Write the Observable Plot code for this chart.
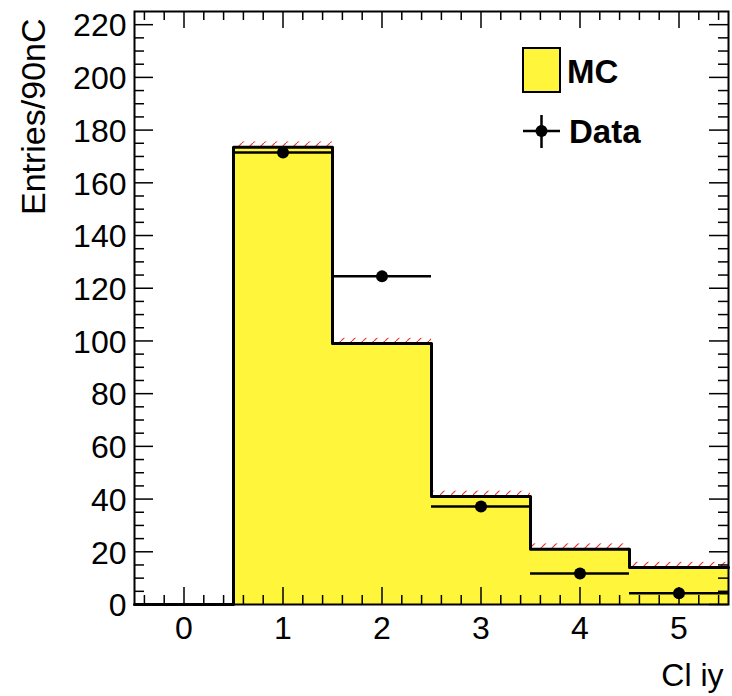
<!DOCTYPE html>
<html>
<head>
<meta charset="utf-8">
<script src="https://cdn.jsdelivr.net/npm/d3@7"></script>
<script src="https://cdn.jsdelivr.net/npm/@observablehq/plot@0.6"></script>
<style>
  body { margin: 0; background: #fff; }
  svg { display: block; }
</style>
</head>
<body>
<div id="chart"></div>
<script>
// Cluster iy distribution: simulation (MC) vs. measured data, per 90 nC
const binCenters = [0, 1, 2, 3, 4, 5];
const mcCounts   = [0, 173.5, 99, 41, 21, 14];
const mcErrors   = [0, 2, 2, 2, 2, 2];
const dataCounts = [0, 171.5, 124.5, 37.2, 11.8, 4.3];
const xTickValues = [0, 1, 2, 3, 4, 5];
const yTickValues = [0, 20, 40, 60, 80, 100, 120, 140, 160, 180, 200, 220];
const xTitle = "Cl iy";
const yTitle = "Entries/90nC";
const legendLabels = ["MC", "Data"];

const W = 732, H = 696;
const mL = 134, mR = 4, mT = 11, mB = 92;
const innerW = W - mL - mR, innerH = H - mT - mB;
const font = "'Liberation Sans', Arial, Helvetica, sans-serif";
const yellow = "#fff53a";

const bins = binCenters.map((c, i) => ({
  x1: c - 0.5, x2: c + 0.5, mc: mcCounts[i], err: mcErrors[i], data: dataCounts[i], c
}));

// histogram outline (step) through the lower bin edges plus the last upper edge
const outline = bins.map(b => ({x: b.x1, y: b.mc}));
outline.push({x: bins[bins.length - 1].x2, y: bins[bins.length - 1].mc});

const xMinor = d3.range(-4, 55, 2).map(v => v / 10).filter(v => Math.abs(v - Math.round(v)) > 1e-6);
const yMinor = d3.range(5, 225, 5).filter(v => v % 20 !== 0);

const majX = 17, minX = 9, majY = 19, minY = 10;

const chart = Plot.plot({
  width: W, height: H,
  marginLeft: mL, marginRight: mR, marginTop: mT, marginBottom: mB,
  style: {fontFamily: font, background: "#fff"},
  x: {domain: [-0.5, 5.5], axis: null},
  y: {domain: [0, 225], axis: null},
  marks: [
    // MC uncertainty band (hatched)
    Plot.rect(bins.filter(b => b.mc > 0), {
      x1: "x1", x2: "x2", y1: b => b.mc - b.err, y2: b => b.mc + b.err,
      fill: "url(#mcErr)"
    }),
    // MC filled histogram
    Plot.rectY(bins, {x1: "x1", x2: "x2", y: "mc", fill: yellow}),
    // inside ticks on all four sides
    Plot.tickX(xTickValues, {x: d => d, insetTop: innerH - majX, stroke: "#000", strokeWidth: 1.5}),
    Plot.tickX(xMinor, {x: d => d, insetTop: innerH - minX, stroke: "#000", strokeWidth: 1.5}),
    Plot.tickX(xTickValues, {x: d => d, insetBottom: innerH - majX, stroke: "#000", strokeWidth: 1.5}),
    Plot.tickX(xMinor, {x: d => d, insetBottom: innerH - minX, stroke: "#000", strokeWidth: 1.5}),
    Plot.tickY(yTickValues, {y: d => d, insetRight: innerW - majY, stroke: "#000", strokeWidth: 1.5}),
    Plot.tickY(yMinor, {y: d => d, insetRight: innerW - minY, stroke: "#000", strokeWidth: 1.5}),
    Plot.tickY(yTickValues, {y: d => d, insetLeft: innerW - majY, stroke: "#000", strokeWidth: 1.5}),
    Plot.tickY(yMinor, {y: d => d, insetLeft: innerW - minY, stroke: "#000", strokeWidth: 1.5}),
    // MC outline
    Plot.line(outline, {x: "x", y: "y", curve: "step-after", stroke: "#000", strokeWidth: 3}),
    // data: bin-width bars and markers
    Plot.ruleY(bins.filter(b => b.data > 0), {y: "data", x1: "x1", x2: "x2", stroke: "#000", strokeWidth: 2.5}),
    Plot.dot(bins.filter(b => b.data > 0), {x: "c", y: "data", r: 6, fill: "#000"}),
    // axes labels
    Plot.axisX(xTickValues, {tickSize: 0, tickPadding: 12, fontSize: 32, label: null, tickFormat: d => String(d)}),
    Plot.axisY(yTickValues, {tickSize: 0, tickPadding: 8, fontSize: 32, label: null, tickFormat: d => String(d), dy: 1.5}),
    Plot.text([xTitle], {frameAnchor: "bottom-right", text: d => d, textAnchor: "end", lineAnchor: "bottom",
      dx: -5, dy: 81, fontSize: 32}),
    Plot.text([yTitle], {frameAnchor: "top-left", text: d => d, rotate: -90, textAnchor: "end", lineAnchor: "bottom",
      dx: -90, dy: 7, fontSize: 34}),
    Plot.frame({stroke: "#000", strokeWidth: 2})
  ]
});

const svg = d3.select(chart);
// hatch pattern for the MC uncertainty
const defs = svg.insert("defs", ":first-child");
defs.append("pattern")
  .attr("id", "mcErr").attr("patternUnits", "userSpaceOnUse")
  .attr("width", 11).attr("height", 11)
  .append("path").attr("d", "M-1,12 L12,-1").attr("stroke", "#f03030").attr("stroke-width", 1.2);

// legend
const lg = svg.append("g").attr("font-family", font).attr("font-weight", "bold")
  .attr("font-size", 33).attr("text-anchor", "start");
lg.append("rect").attr("x", 523).attr("y", 48).attr("width", 37).attr("height", 44)
  .attr("fill", yellow).attr("stroke", "#000").attr("stroke-width", 2);
lg.append("text").attr("x", 567).attr("y", 83).text(legendLabels[0]);
lg.append("line").attr("x1", 523).attr("x2", 560).attr("y1", 131).attr("y2", 131).attr("stroke", "#000").attr("stroke-width", 2.5);
lg.append("line").attr("x1", 541.5).attr("x2", 541.5).attr("y1", 115).attr("y2", 148).attr("stroke", "#000").attr("stroke-width", 2.5);
lg.append("circle").attr("cx", 541.5).attr("cy", 131).attr("r", 6).attr("fill", "#000");
lg.append("text").attr("x", 569).attr("y", 143).text(legendLabels[1]);

document.getElementById("chart").appendChild(chart);
</script>
</body>
</html>
